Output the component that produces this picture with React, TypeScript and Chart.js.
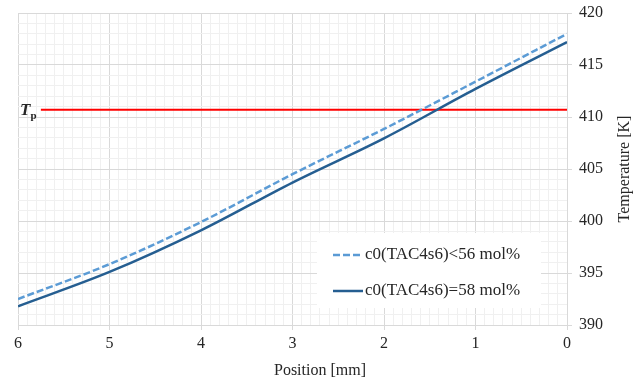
import { useEffect, useRef } from 'react';
import { Chart, registerables } from 'chart.js';

Chart.register(...registerables);

// ---- data ----
const positions = [6, 5, 4, 3, 2, 1, 0];
const tempBelow56 = [392.5, 395.85, 399.9, 404.5, 408.85, 413.4, 418.0];
const tempAt58 = [391.8, 395.1, 399.1, 403.7, 407.95, 412.7, 417.2];
const tpValue = 410.7;
const tpPositions = [5.75, 0];
const seriesLabels = ['c0(TAC4s6)<56 mol%', 'c0(TAC4s6)=58 mol%'];
const xTitle = 'Position [mm]';
const yTitle = 'Temperature [K]';
const xRange = [0, 6];
const yRange = [390, 420];

const FONT = "'Liberation Serif', 'Times New Roman', serif";
const TEXT = '#262626';
const MAJOR = '#d9d9d9';
const MINOR = '#f0f0f0';

const isMajor = (v: number, step: number) => Math.abs(v / step - Math.round(v / step)) < 1e-6;

const overlayPlugin = {
  id: 'overlay',
  afterDraw(chart: any) {
    const { ctx, chartArea, scales } = chart;
    const y = scales.y;
    ctx.save();
    // Tp label
    const ty = y.getPixelForValue(tpValue);
    ctx.fillStyle = TEXT;
    ctx.textBaseline = 'alphabetic';
    ctx.textAlign = 'left';
    ctx.font = `italic bold 17px ${FONT}`;
    ctx.fillText('T', chartArea.left + 2, ty + 5);
    const tw = ctx.measureText('T').width;
    ctx.font = `bold 11px ${FONT}`;
    ctx.fillText('p', chartArea.left + 2 + tw, ty + 9);

    // legend box
    const lx = chartArea.left + 299;
    const lyTop = chartArea.top + 220;
    ctx.fillStyle = '#ffffff';
    ctx.fillRect(lx, lyTop, 224, 75);
    const ds = chart.data.datasets;
    [0, 1].forEach((i) => {
      const rowY = lyTop + 22 + i * 36;
      ctx.strokeStyle = ds[i].borderColor;
      ctx.lineWidth = ds[i].borderWidth;
      ctx.setLineDash(ds[i].borderDash || []);
      ctx.beginPath();
      ctx.moveTo(lx + 16, rowY);
      ctx.lineTo(lx + 46, rowY);
      ctx.stroke();
      ctx.setLineDash([]);
      ctx.fillStyle = TEXT;
      ctx.font = `17px ${FONT}`;
      ctx.textBaseline = 'middle';
      ctx.fillText(ds[i].label, lx + 48, rowY);
    });

    // axis titles
    ctx.fillStyle = TEXT;
    ctx.font = `16px ${FONT}`;
    ctx.textAlign = 'center';
    ctx.textBaseline = 'middle';
    ctx.fillText(xTitle, 320, chart.height - 14);
    ctx.translate(chart.width - 19, (chartArea.top + chartArea.bottom) / 2);
    ctx.rotate(-Math.PI / 2);
    ctx.fillText(yTitle, 0, 0);
    ctx.restore();
  },
};

export default function App() {
  const ref = useRef<HTMLCanvasElement>(null);
  useEffect(() => {
    document.body.style.margin = '0';
    const chart = new Chart(ref.current!, {
      type: 'line',
      data: {
        datasets: [
          {
            label: seriesLabels[0],
            data: positions.map((p, i) => ({ x: p, y: tempBelow56[i] })),
            borderColor: '#5b9bd5',
            borderWidth: 2.5,
            borderDash: [7, 3],
            pointRadius: 0,
            cubicInterpolationMode: 'monotone',
          },
          {
            label: seriesLabels[1],
            data: positions.map((p, i) => ({ x: p, y: tempAt58[i] })),
            borderColor: '#255e91',
            borderWidth: 2.5,
            pointRadius: 0,
            cubicInterpolationMode: 'monotone',
          },
          {
            label: 'Tp',
            data: tpPositions.map((p) => ({ x: p, y: tpValue })),
            borderColor: '#ff0000',
            borderWidth: 2,
            pointRadius: 0,
          },
        ],
      },
      options: {
        animation: false,
        responsive: false,
        maintainAspectRatio: false,
        layout: { padding: { left: 18, top: 13, right: 0, bottom: 0 } },
        plugins: { legend: { display: false }, tooltip: { enabled: false } },
        scales: {
          x: {
            type: 'linear',
            reverse: true,
            min: xRange[0],
            max: xRange[1],
            afterFit: (s: any) => { s.height = 60; s.paddingLeft = 0; s.paddingRight = 0; },
            ticks: {
              stepSize: 0.1,
              autoSkip: false,
              maxRotation: 0,
              padding: 4,
              color: TEXT,
              font: { family: FONT, size: 16 },
              callback: (v: any) => (isMajor(Number(v), 1) ? String(Math.round(Number(v))) : ''),
            },
            grid: {
              color: (c: any) => (c.tick && isMajor(c.tick.value, 1) ? MAJOR : MINOR),
              tickColor: (c: any) => (c.tick && isMajor(c.tick.value, 1) ? MAJOR : 'rgba(0,0,0,0)'),
              tickLength: 5,
            },
            border: { color: MAJOR },
          },
          y: {
            type: 'linear',
            position: 'right',
            min: yRange[0],
            max: yRange[1],
            afterFit: (s: any) => { s.width = 77; s.paddingTop = 0; s.paddingBottom = 0; },
            ticks: {
              stepSize: 1,
              autoSkip: false,
              padding: 7,
              color: TEXT,
              font: { family: FONT, size: 16 },
              callback: (v: any) => (isMajor(Number(v), 5) ? String(Math.round(Number(v))) : ''),
            },
            grid: {
              color: (c: any) => (c.tick && isMajor(c.tick.value, 5) ? MAJOR : MINOR),
              tickColor: (c: any) => (c.tick && isMajor(c.tick.value, 5) ? MAJOR : 'rgba(0,0,0,0)'),
              tickLength: 5,
            },
            border: { color: MAJOR },
          },
        },
      },
      plugins: [overlayPlugin],
    } as any);
    return () => chart.destroy();
  }, []);
  return (
    <div style={{ position: 'absolute', left: 0, top: 0, width: 644, height: 385 }}>
      <canvas ref={ref} width={644} height={385} style={{ width: 644, height: 385 }} />
    </div>
  );
}
